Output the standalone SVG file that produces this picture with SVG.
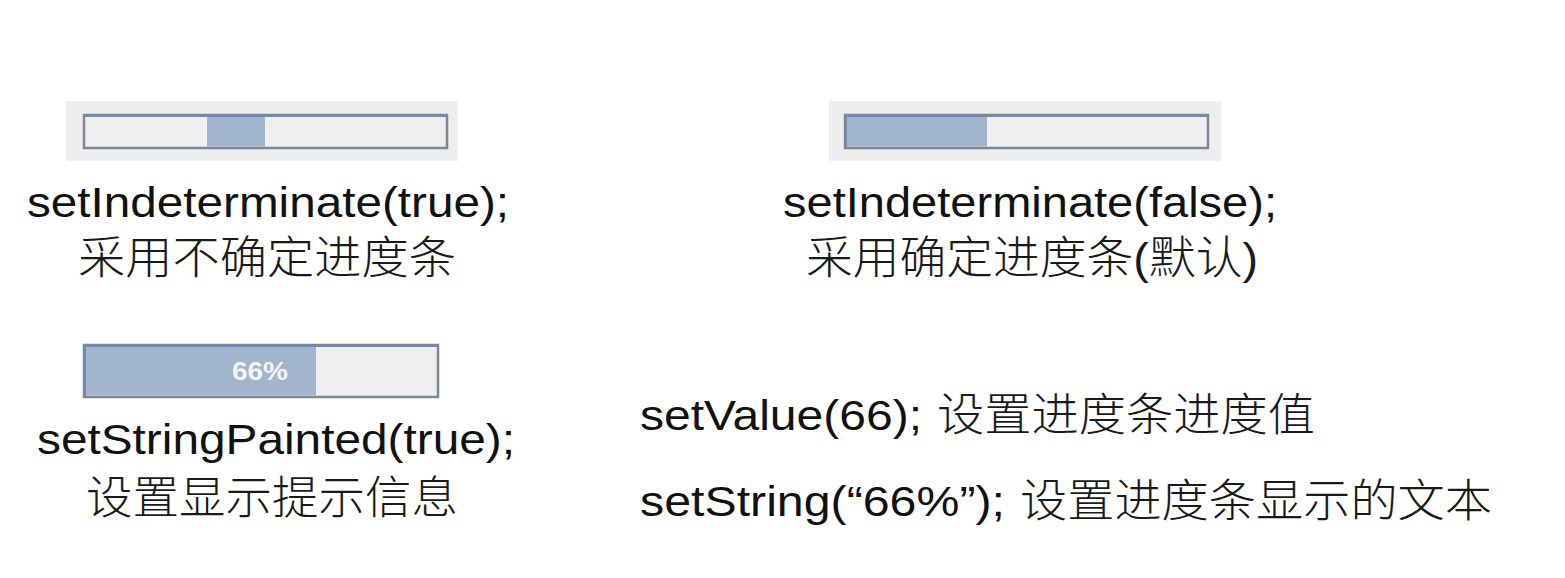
<svg xmlns="http://www.w3.org/2000/svg" width="1565" height="578" viewBox="0 0 1565 578">
<style>
.panel{fill:#eeeeee}
.track{fill:#efefef;stroke:#7e8794;stroke-width:2.5}
.fill{fill:#a1b5cc}
.edge{fill:none;stroke:#6e8bb8;stroke-width:2}
.lat{font-family:"Liberation Sans",Arial,sans-serif;font-size:42px;fill:#111111}
.cjk{font-family:"Liberation Sans","Noto Sans CJK SC",sans-serif;font-size:45px;font-weight:300;fill:#1a1a1a}
.pct{font-family:"Liberation Sans",Arial,sans-serif;font-size:26px;font-weight:bold;fill:#f3f5f8}
</style>
<rect width="1565" height="578" fill="#ffffff"/>
<g id="bar-indeterminate">
<rect class="panel" x="66" y="101" width="392" height="60"/>
<rect class="track" x="84" y="115" width="363" height="33"/>
<rect class="fill" x="207" y="116.5" width="58" height="30"/>
<line class="edge" x1="85" y1="116" x2="446" y2="116"/>
</g>
<g id="label-indeterminate">
<text class="lat" x="27" y="217" textLength="482" lengthAdjust="spacingAndGlyphs">setIndeterminate(true);</text>
<text class="cjk" x="78" y="274" textLength="378" lengthAdjust="spacingAndGlyphs">采用不确定进度条</text>
</g>
<g id="bar-determinate">
<rect class="panel" x="829" y="101" width="392" height="60"/>
<rect class="track" x="845" y="115" width="363" height="33"/>
<rect class="fill" x="846.5" y="116.5" width="140.5" height="30"/>
<line class="edge" x1="846" y1="116" x2="1207" y2="116"/>
<line class="edge" x1="846" y1="116" x2="846" y2="147"/>
</g>
<g id="label-determinate">
<text class="lat" x="783" y="217" textLength="494" lengthAdjust="spacingAndGlyphs">setIndeterminate(false);</text>
<text class="cjk" x="806" y="274" textLength="452" lengthAdjust="spacingAndGlyphs">采用确定进度条(默认)</text>
</g>
<g id="bar-string">
<rect class="track" x="84" y="345" width="354" height="52"/>
<rect class="fill" x="85.5" y="346.5" width="230.5" height="49"/>
<line class="edge" x1="85" y1="346" x2="437" y2="346"/>
<line class="edge" x1="85" y1="346" x2="85" y2="396"/>
<text class="pct" x="232" y="380" textLength="56" lengthAdjust="spacingAndGlyphs">66%</text>
</g>
<g id="label-string-painted">
<text class="lat" x="37" y="454" textLength="478" lengthAdjust="spacingAndGlyphs">setStringPainted(true);</text>
<text class="cjk" x="86" y="514" textLength="372" lengthAdjust="spacingAndGlyphs">设置显示提示信息</text>
</g>
<g id="label-set-value">
<text class="lat" x="640" y="430" textLength="282" lengthAdjust="spacingAndGlyphs">setValue(66);</text>
<text class="cjk" x="937" y="431" textLength="378" lengthAdjust="spacingAndGlyphs">设置进度条进度值</text>
</g>
<g id="label-set-string">
<text class="lat" x="640" y="516" textLength="365" lengthAdjust="spacingAndGlyphs">setString(“66%”);</text>
<text class="cjk" x="1020" y="517" textLength="472" lengthAdjust="spacingAndGlyphs">设置进度条显示的文本</text>
</g>
</svg>
